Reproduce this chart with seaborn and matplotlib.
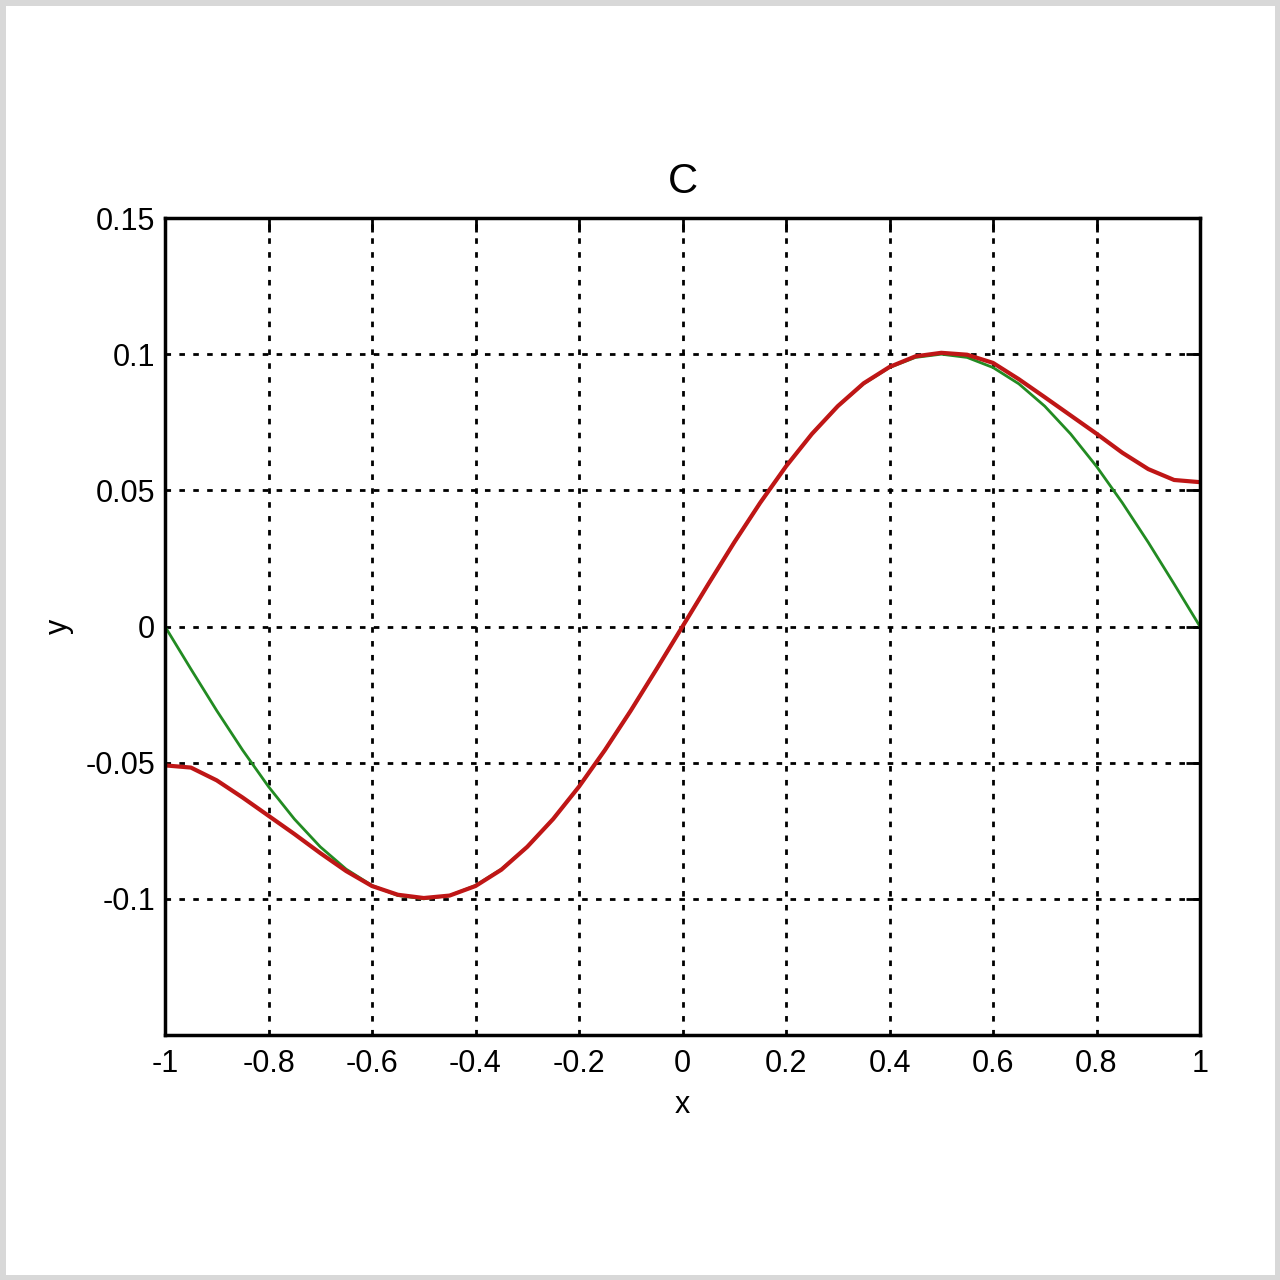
import numpy as np
import pandas as pd
import matplotlib
matplotlib.use('Agg')
import matplotlib.pyplot as plt
import seaborn as sns

# values
x_vals = [-1.0, -0.95, -0.9, -0.85, -0.8, -0.75, -0.7, -0.65, -0.6, -0.55, -0.5,
          -0.45, -0.4, -0.35, -0.3, -0.25, -0.2, -0.15, -0.1, -0.05, 0.0,
          0.05, 0.1, 0.15, 0.2, 0.25, 0.3, 0.35, 0.4, 0.45, 0.5,
          0.55, 0.6, 0.65, 0.7, 0.75, 0.8, 0.85, 0.9, 0.95, 1.0]

green_y = [0.0, -0.0156, -0.0309, -0.0454, -0.0588, -0.0707, -0.0809, -0.0891, -0.0951, -0.0988, -0.1,
           -0.0988, -0.0951, -0.0891, -0.0809, -0.0707, -0.0588, -0.0454, -0.0309, -0.0156, 0.0,
           0.0156, 0.0309, 0.0454, 0.0588, 0.0707, 0.0809, 0.0891, 0.0951, 0.0988, 0.1,
           0.0988, 0.0951, 0.0891, 0.0809, 0.0707, 0.0588, 0.0454, 0.0309, 0.0156, 0.0]

red_y = [-0.051, -0.0518, -0.0565, -0.0628, -0.0695, -0.0762, -0.0832, -0.0898, -0.0953, -0.0985, -0.0997,
         -0.0988, -0.0953, -0.0893, -0.0809, -0.0707, -0.0588, -0.0454, -0.0309, -0.0156, 0.0,
         0.0156, 0.0309, 0.0454, 0.0588, 0.0707, 0.0809, 0.0893, 0.0953, 0.0992, 0.1005,
         0.0998, 0.0968, 0.0908, 0.0842, 0.0775, 0.0708, 0.0638, 0.0578, 0.0538, 0.053]

x_ticks = [-1, -0.8, -0.6, -0.4, -0.2, 0, 0.2, 0.4, 0.6, 0.8, 1]
x_labels = ['-1', '-0.8', '-0.6', '-0.4', '-0.2', '0', '0.2', '0.4', '0.6', '0.8', '1']
y_ticks = [-0.1, -0.05, 0, 0.05, 0.1, 0.15]
y_labels = ['-0.1', '-0.05', '0', '0.05', '0.1', '0.15']

df = pd.DataFrame({'x': x_vals, 'green': green_y, 'red': red_y})

sns.set_style('white')
plt.rcParams['font.family'] = ['Liberation Sans', 'DejaVu Sans']
plt.rcParams['text.color'] = 'black'
plt.rcParams['axes.labelcolor'] = 'black'

fig = plt.figure(figsize=(12.8, 12.8), dpi=100)
ax = fig.add_axes([165 / 1280, 1 - 1035 / 1280, 1035 / 1280, (1035 - 218) / 1280])

sns.lineplot(data=df, x='x', y='green', ax=ax, color='#228b22', linewidth=2, sort=False)
sns.lineplot(data=df, x='x', y='red', ax=ax, color='#bf1616', linewidth=3, sort=False)

ax.set_xlim(-1, 1)
ax.set_ylim(-0.15, 0.15)
ax.set_xticks(x_ticks)
ax.set_xticklabels(x_labels)
ax.set_yticks(y_ticks)
ax.set_yticklabels(y_labels)

ax.grid(True, color='black', linestyle=(0, (2, 3)), linewidth=2)
ax.tick_params(direction='in', length=10, width=2, top=True, right=True,
               labelsize=22, colors='black', pad=7)
ax.tick_params(axis='x', pad=10)
for s in ax.spines.values():
    s.set_color('black')
    s.set_linewidth(2.5)

ax.set_title('C', fontsize=30, pad=18, color='black')
ax.set_xlabel('x', fontsize=22, labelpad=8)
ax.set_ylabel('y', fontsize=22, labelpad=8)

# light gray frame around the picture
fig.patch.set_edgecolor('#d8d8d8')
fig.patch.set_linewidth(6.5)

fig.savefig('out.png', dpi=100, edgecolor=fig.get_edgecolor())
